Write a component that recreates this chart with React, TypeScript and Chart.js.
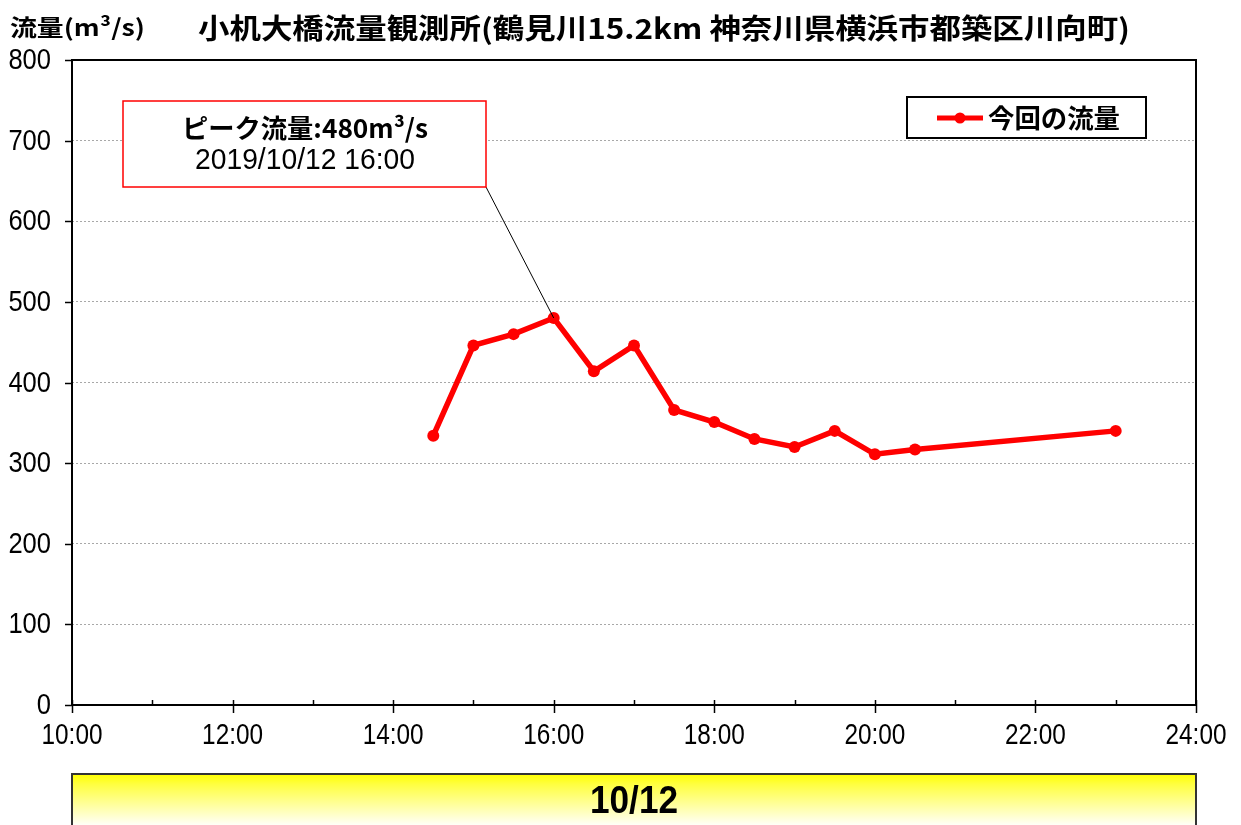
import React, { useEffect, useRef } from "react";
import { Chart, registerables } from "chart.js";

Chart.register(...registerables);

const chartTitle = "小机大橋流量観測所(鶴見川15.2km 神奈川県横浜市都築区川向町)";
const unitLabel = "流量(m³/s)";
const seriesName = "今回の流量";
const dateLabel = "10/12";
const peakDate = "2019/10/12";
const timeLabels = ["14:30", "15:00", "15:30", "16:00", "16:30", "17:00", "17:30", "18:00", "18:30", "19:00", "19:30", "20:00", "20:30", "23:00"];
const flowValues = [334, 446, 460, 480, 414, 446, 366, 351, 330, 320, 340, 311, 317, 340];
const xMin = 10;
const xMax = 24;
const yMin = 0;
const yMax = 800;

const toHours = (s: string) => {
  const [h, m] = s.split(":").map(Number);
  return h + m / 60;
};

const LATIN = '"Liberation Sans", Arial, sans-serif';
const CJK = '"Noto Sans CJK JP", "Noto Sans", sans-serif';

function fitText(ctx: CanvasRenderingContext2D, text: string, cx: number, cy: number, w: number, font: string) {
  ctx.save();
  ctx.font = font;
  const m = ctx.measureText(text).width;
  ctx.translate(cx, cy);
  ctx.scale(w / m, 1);
  ctx.textAlign = "center";
  ctx.textBaseline = "middle";
  ctx.fillStyle = "#000";
  ctx.fillText(text, 0, 0);
  ctx.restore();
}

function squeezeText(ctx: CanvasRenderingContext2D, text: string, x: number, y: number, sx: number, font: string, align: CanvasTextAlign) {
  ctx.save();
  ctx.font = font;
  ctx.translate(x, y);
  ctx.scale(sx, 1);
  ctx.textAlign = align;
  ctx.textBaseline = "middle";
  ctx.fillStyle = "#000";
  ctx.fillText(text, 0, 0);
  ctx.restore();
}

export default function App() {
  const ref = useRef<HTMLCanvasElement | null>(null);

  useEffect(() => {
    if (!ref.current) return;
    const points = timeLabels.map((t, i) => ({ x: toHours(t), y: flowValues[i] }));
    let peakIdx = 0;
    flowValues.forEach((v, i) => { if (v > flowValues[peakIdx]) peakIdx = i; });

    const decor = {
      id: "decor",
      beforeDraw(chart: any) {
        const ctx = chart.ctx;
        ctx.save();
        ctx.fillStyle = "#fff";
        ctx.fillRect(0, 0, chart.width, chart.height);
        ctx.restore();
      },
      afterDraw(chart: any) {
        const ctx: CanvasRenderingContext2D = chart.ctx;
        const a = chart.chartArea;
        const xs = chart.scales.x;
        const ys = chart.scales.y;
        ctx.save();
        // plot border
        ctx.strokeStyle = "#000";
        ctx.lineWidth = 2;
        ctx.strokeRect(a.left, a.top, a.right - a.left, a.bottom - a.top);
        // x ticks
        ctx.lineWidth = 1.5;
        for (let h = xMin; h <= xMax; h++) {
          const px = Math.round(xs.getPixelForValue(h)) + 0.5;
          ctx.beginPath();
          if (h % 2 === 0) {
            ctx.moveTo(px, a.bottom - 5);
            ctx.lineTo(px, a.bottom + 8);
          } else {
            ctx.moveTo(px, a.bottom - 5);
            ctx.lineTo(px, a.bottom);
          }
          ctx.stroke();
        }
        // y ticks
        for (let v = yMin; v <= yMax; v += 100) {
          const py = Math.round(ys.getPixelForValue(v)) + 0.5;
          ctx.beginPath();
          ctx.moveTo(a.left - 7, py);
          ctx.lineTo(a.left, py);
          ctx.stroke();
        }
        // tick labels
        const tickFont = `29px ${LATIN}`;
        xs.ticks.forEach((t: any) => {
          squeezeText(ctx, `${t.value}:00`, xs.getPixelForValue(t.value), a.bottom + 31, 0.84, tickFont, "center");
        });
        ys.ticks.forEach((t: any) => {
          squeezeText(ctx, String(t.value), a.left - 21, ys.getPixelForValue(t.value) + 1, 0.88, tickFont, "right");
        });

        // titles
        fitText(ctx, chartTitle, 664, 28, 932, `bold 28px ${CJK}`);
        fitText(ctx, unitLabel, 77.5, 27, 135, `bold 23px ${CJK}`);

        // leader line
        const pk = points[peakIdx];
        const bx1 = 123, by1 = 101, bx2 = 486, by2 = 187;
        ctx.strokeStyle = "#000";
        ctx.lineWidth = 1;
        ctx.beginPath();
        ctx.moveTo(bx2, by2);
        ctx.lineTo(xs.getPixelForValue(pk.x), ys.getPixelForValue(pk.y));
        ctx.stroke();
        // annotation box
        ctx.fillStyle = "#fff";
        ctx.fillRect(bx1, by1, bx2 - bx1, by2 - by1);
        ctx.strokeStyle = "#ff0000";
        ctx.lineWidth = 1.5;
        ctx.strokeRect(bx1, by1, bx2 - bx1, by2 - by1);
        const hh = Math.floor(pk.x);
        const mm = Math.round((pk.x - hh) * 60);
        fitText(ctx, `ピーク流量:${pk.y}m³/s`, 305, 128, 246, `bold 26px ${CJK}`);
        fitText(ctx, `${peakDate} ${hh}:${String(mm).padStart(2, "0")}`, 305, 161, 220, `29px ${LATIN}`);

        // legend
        ctx.fillStyle = "#fff";
        ctx.fillRect(907, 97, 239, 41);
        ctx.strokeStyle = "#000";
        ctx.lineWidth = 2;
        ctx.strokeRect(907, 97, 239, 41);
        ctx.strokeStyle = "#ff0000";
        ctx.lineWidth = 5;
        ctx.beginPath();
        ctx.moveTo(937, 118);
        ctx.lineTo(983, 118);
        ctx.stroke();
        ctx.fillStyle = "#ff0000";
        ctx.beginPath();
        ctx.arc(960, 118, 5.5, 0, Math.PI * 2);
        ctx.fill();
        fitText(ctx, seriesName, 1054, 118, 132, `bold 26px ${CJK}`);

        // bottom date bar
        const g = ctx.createLinearGradient(0, 774, 0, 825);
        g.addColorStop(0, "#ffff00");
        g.addColorStop(0.2, "#ffff40");
        g.addColorStop(1, "#fffff8");
        ctx.fillStyle = g;
        ctx.fillRect(a.left, 774, a.right - a.left, 60);
        ctx.strokeStyle = "#333";
        ctx.lineWidth = 2;
        ctx.beginPath();
        ctx.moveTo(a.left, 830);
        ctx.lineTo(a.left, 774);
        ctx.lineTo(a.right, 774);
        ctx.lineTo(a.right, 830);
        ctx.stroke();
        fitText(ctx, dateLabel, 634, 803, 88, `bold 38px ${LATIN}`);
        ctx.restore();
      },
    };

    const chart = new Chart(ref.current, {
      type: "line",
      data: {
        datasets: [
          {
            label: seriesName,
            data: points,
            borderColor: "#ff0000",
            backgroundColor: "#ff0000",
            borderWidth: 5.5,
            pointRadius: 6,
            pointBorderWidth: 0,
            pointBackgroundColor: "#ff0000",
            tension: 0,
          },
        ],
      },
      options: {
        responsive: false,
        animation: false,
        layout: { padding: { left: 0, top: 60, right: 45, bottom: 0 } },
        plugins: { legend: { display: false }, tooltip: { enabled: false }, title: { display: false } },
        scales: {
          x: {
            type: "linear",
            min: xMin,
            max: xMax,
            grid: { display: false, drawTicks: false },
            border: { display: false },
            ticks: { display: false, stepSize: 2 },
            afterFit: (s: any) => { s.height = 120; },
          },
          y: {
            min: yMin,
            max: yMax,
            grid: {
              drawTicks: false,
              lineWidth: 1,
              color: (c: any) => (c.tick && (c.tick.value === yMin || c.tick.value === yMax) ? "rgba(0,0,0,0)" : "#a8a8a8"),
            },
            border: { display: false, dash: [2, 2] },
            ticks: { display: false, stepSize: 100 },
            afterFit: (s: any) => { s.width = 72; },
          },
        },
      },
      plugins: [decor],
    });
    return () => chart.destroy();
  }, []);

  return (
    <div style={{ position: "absolute", left: 0, top: 0, width: 1241, height: 825 }}>
      <canvas ref={ref} width={1241} height={825} style={{ width: 1241, height: 825, display: "block" }} />
    </div>
  );
}
